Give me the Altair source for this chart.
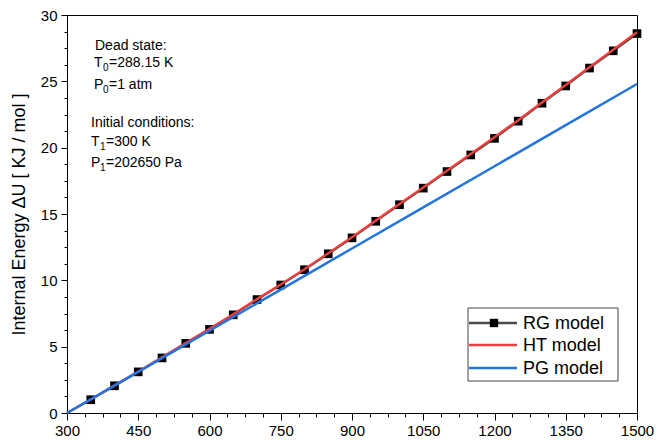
import altair as alt
import pandas as pd

# ---- data ----
temps = [300, 350, 400, 450, 500, 550, 600, 650, 700, 750, 800, 850, 900,
         950, 1000, 1050, 1100, 1150, 1200, 1250, 1300, 1350, 1400, 1450, 1500]
rg_vals = [0.0, 1.0, 2.05, 3.1, 4.15, 5.25, 6.3, 7.4, 8.55, 9.65, 10.8, 12.0, 13.2,
           14.45, 15.7, 16.95, 18.2, 19.45, 20.7, 22.0, 23.35, 24.65, 26.0, 27.3, 28.6]
ht_vals = [0.0, 1.02, 2.08, 3.13, 4.19, 5.28, 6.34, 7.44, 8.58, 9.69, 10.84, 12.04, 13.25,
           14.5, 15.75, 17.0, 18.26, 19.52, 20.78, 22.07, 23.4, 24.72, 26.07, 27.38, 28.7]
pg_temps = [300, 450, 600, 750, 900, 1050, 1200, 1350, 1500]
pg_vals = [0.0, 3.1, 6.2, 9.3, 12.4, 15.5, 18.6, 21.7, 24.8]

x_major = [300, 450, 600, 750, 900, 1050, 1200, 1350, 1500]
x_minor = [300 + 37.5 * i for i in range(33)]
y_major = [0, 5, 10, 15, 20, 25, 30]
y_minor = [1.25 * i for i in range(25)]

legend_labels = ["RG model", "HT model", "PG model"]
legend_colors = ["#4a4a4a", "#e8403f", "#2374e1"]

notes_main = ["Dead state:", "T", "P", "Initial conditions:", "T", "P"]
notes_sub = ["0", "0", "1", "1"]
notes_rest = ["=288.15 K", "=1 atm", "=300 K", "=202650 Pa"]

FONT = "Liberation Sans"

rg = pd.DataFrame({"T": temps, "U": rg_vals})
ht = pd.DataFrame({"T": temps, "U": ht_vals})
pg = pd.DataFrame({"T": pg_temps, "U": pg_vals})
rg_pts = rg[rg["T"] > 300]

xs = alt.Scale(domain=[300, 1500], nice=False, zero=False)
ys = alt.Scale(domain=[0, 30], nice=False)

x_axis = alt.Axis(values=x_major, format="d", tickSize=7, labelFontSize=15, labelPadding=3,
                  title=None, grid=False, orient="bottom", labelFont=FONT,
                  domainColor="black", tickColor="black", labelColor="black",
                  labelFlush=False)
y_axis = alt.Axis(values=y_major, format="d", tickSize=6, labelFontSize=15, labelPadding=4,
                  title="Internal Energy \u0394U [ KJ / mol ]", titleFontSize=18,
                  titleFontWeight="normal", titleFont=FONT, titlePadding=12,
                  grid=False, orient="left", labelFont=FONT,
                  domainColor="black", tickColor="black", labelColor="black",
                  titleColor="black")

rg_line = alt.Chart(rg).mark_line(color="#333333", strokeWidth=2).encode(
    x=alt.X("T:Q", scale=xs, axis=x_axis),
    y=alt.Y("U:Q", scale=ys, axis=y_axis),
)
rg_mark = alt.Chart(rg_pts).mark_square(color="black", size=75, opacity=1).encode(
    x=alt.X("T:Q", scale=xs), y=alt.Y("U:Q", scale=ys))
ht_line = alt.Chart(ht).mark_line(color=legend_colors[1], strokeWidth=2.5).encode(
    x=alt.X("T:Q", scale=xs), y=alt.Y("U:Q", scale=ys))
pg_line = alt.Chart(pg).mark_line(color=legend_colors[2], strokeWidth=2.5).encode(
    x=alt.X("T:Q", scale=xs), y=alt.Y("U:Q", scale=ys))

main = alt.layer(rg_line, rg_mark, ht_line, pg_line)

# minor ticks via a second, label-less axis on the same scales
minor = alt.Chart(pd.DataFrame({"T": [300], "U": [0]})).mark_point(opacity=0).encode(
    x=alt.X("T:Q", scale=xs, axis=alt.Axis(values=x_minor, tickSize=4, labels=False,
                                           domain=False, grid=False, title=None,
                                           orient="bottom", tickColor="black")),
    y=alt.Y("U:Q", scale=ys, axis=alt.Axis(values=y_minor, tickSize=3, labels=False,
                                           domain=False, grid=False, title=None,
                                           orient="left", tickColor="black")),
)

one = pd.DataFrame({"k": [0]})

# legend (drawn by hand to show line + square marker)
leg_box = alt.Chart(one).mark_rect(fill="white", stroke="#444444", strokeWidth=1).encode(
    x=alt.value(401), x2=alt.value(551), y=alt.value(293), y2=alt.value(366))
leg_rows = [308, 330, 353]
leg_layers = [leg_box]
for lab, col, yy in zip(legend_labels, legend_colors, leg_rows):
    leg_layers.append(alt.Chart(one).mark_rule(color=col, strokeWidth=2.5).encode(
        x=alt.value(402), x2=alt.value(450), y=alt.value(yy)))
    leg_layers.append(alt.Chart(one).mark_text(
        text=lab, align="left", baseline="middle", fontSize=18, font=FONT, color="black"
    ).encode(x=alt.value(456), y=alt.value(yy + 1)))
leg_layers.append(alt.Chart(one).mark_square(color="black", size=70, opacity=1).encode(
    x=alt.value(427), y=alt.value(leg_rows[0])))

# annotation text with subscripts
note_layers = []
main_pos = [(28, 35), (27, 52), (27, 74), (24, 112), (24, 131), (24, 152)]
for txt, (xx, yy) in zip(notes_main, main_pos):
    note_layers.append(alt.Chart(one).mark_text(
        text=txt, align="left", baseline="alphabetic", fontSize=14, font=FONT, color="black"
    ).encode(x=alt.value(xx), y=alt.value(yy)))
sub_pos = [(36, 56), (36, 78), (33, 135), (33, 156)]
for txt, (xx, yy) in zip(notes_sub, sub_pos):
    note_layers.append(alt.Chart(one).mark_text(
        text=txt, align="left", baseline="alphabetic", fontSize=10, font=FONT, color="black"
    ).encode(x=alt.value(xx), y=alt.value(yy)))
rest_pos = [(42, 52), (42, 74), (39, 131), (39, 152)]
for txt, (xx, yy) in zip(notes_rest, rest_pos):
    note_layers.append(alt.Chart(one).mark_text(
        text=txt, align="left", baseline="alphabetic", fontSize=14, font=FONT, color="black"
    ).encode(x=alt.value(xx), y=alt.value(yy)))

chart = alt.layer(
    main, minor, *leg_layers, *note_layers
).resolve_axis(x="independent", y="independent").properties(
    width=570, height=398,
    autosize=alt.AutoSizeParams(type="none"),
    padding={"left": 67, "top": 15, "right": 20, "bottom": 33},
    background="white",
).configure_view(stroke="black", strokeWidth=1)

chart.save("out.html", embed_options={"renderer": "svg", "actions": False})
